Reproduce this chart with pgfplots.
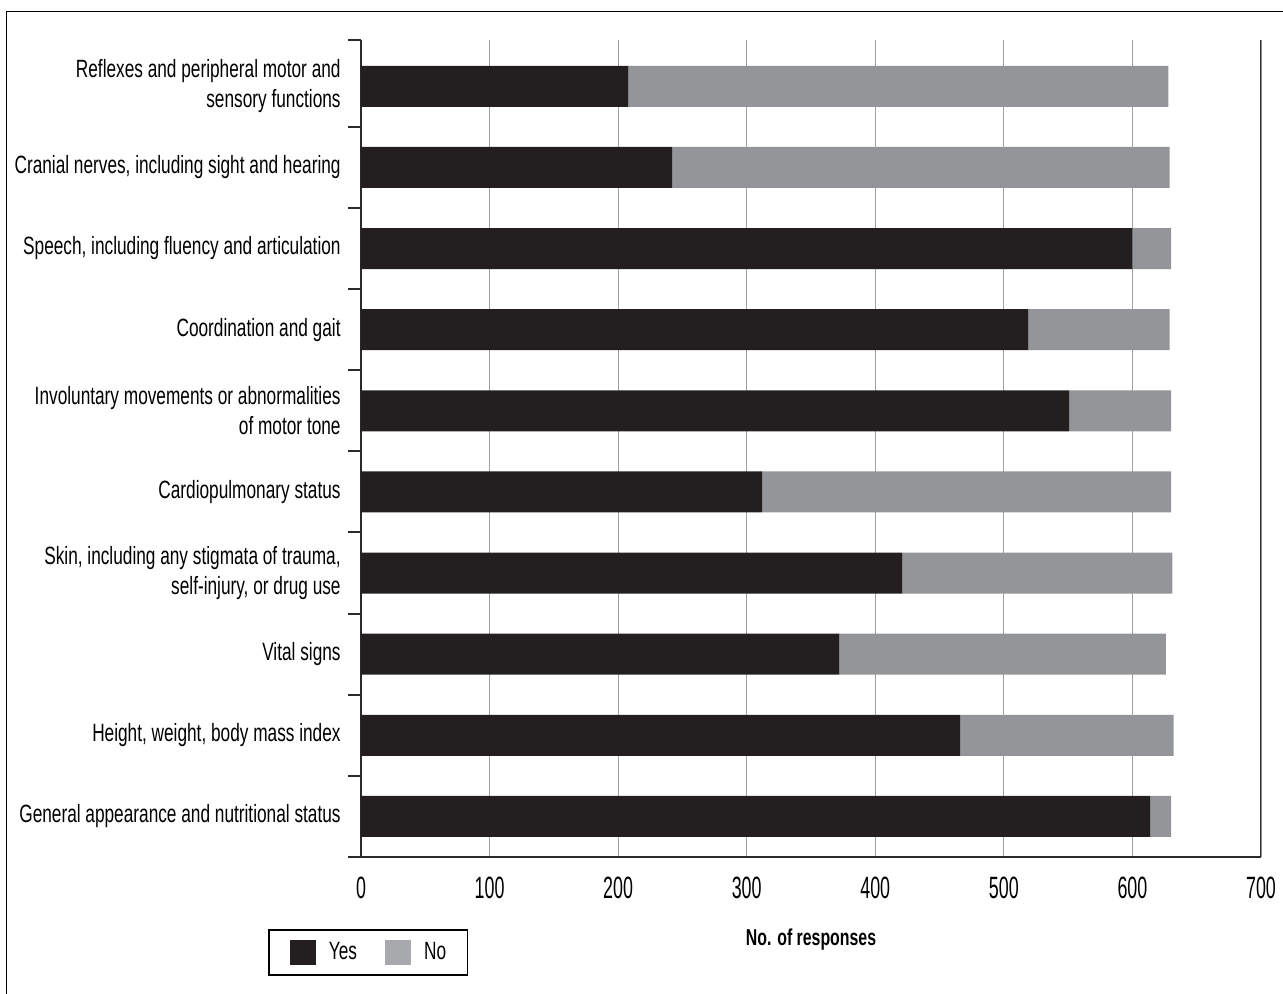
\documentclass[border=0pt]{standalone}
\usepackage{pgfplots}
\pgfplotsset{compat=1.18}
\usepackage{fontspec}
\setmainfont{Liberation Sans}[FakeStretch=0.69]
\newfontfamily\tickfont{Liberation Sans}[FakeStretch=0.58]
\definecolor{yesc}{HTML}{231F20}
\definecolor{noc}{HTML}{939598}
\definecolor{nolegc}{HTML}{A7A9AC}
\definecolor{gridc}{HTML}{A0A0A0}
\definecolor{axc}{HTML}{2A2A2A}
\begin{document}
\begin{tikzpicture}[x=0.5pt,y=0.5pt]
\useasboundingbox (-361,-136) rectangle (922,857);
\draw[line width=0.6pt] (-354.5,-160) -- (-354.5,845.5) -- (950,845.5);
\begin{axis}[
  scale only axis, width=450pt, height=408.5pt,
  xbar stacked, bar width=20.5pt,
  xmin=0, xmax=700, ymin=-0.5, ymax=9.57,
  axis lines*=left,
  axis line style={-, line width=1pt, color=axc},
  ytick={0,...,9},
  yticklabels={
    {General appearance and nutritional status},
    {Height, weight, body mass index},
    {Vital signs},
    {Skin, including any stigmata of trauma,\\self-injury, or drug use},
    {Cardiopulmonary status},
    {Involuntary movements or abnormalities\\of motor tone},
    {Coordination and gait},
    {Speech, including fluency and articulation},
    {Cranial nerves, including sight and hearing},
    {Reflexes and peripheral motor and\\sensory functions}},
  minor ytick={-0.5,0.5,1.5,2.5,3.5,4.5,5.5,6.5,7.5,8.5,9.57},
  major tick length=0pt, minor tick length=6.5pt, tick align=outside,
  tick style={line width=1pt, color=axc},
  xtick={0,100,...,700},
  xmajorgrids, grid style={gridc, line width=0.6pt},
  /pgf/number format/assume math mode=true,
  xticklabel style={font=\tickfont\fontsize{15.4}{17}\selectfont, yshift=-6.5pt},
  yticklabel style={align=right, font=\fontsize{12.5}{15}\selectfont, inner sep=0pt, xshift=-10pt},
  xlabel={\textbf{No. of responses}},
  xlabel style={at={(axis description cs:0.5,-0.1016)}, anchor=center, font=\fontsize{11.5}{13}\selectfont},
  legend style={at={(axis description cs:0.0078,-0.1169)}, anchor=center, legend columns=2,
    draw=black, line width=0.6pt, font=\fontsize{12.5}{14}\selectfont,
    inner xsep=10.5pt, inner ysep=5pt,
    nodes={inner sep=0pt},
    /tikz/every odd column/.append style={column sep=6.5pt},
    /tikz/every even column/.append style={column sep=14pt}},
  legend image code/.code={\fill[#1] (0pt,-6.25pt) rectangle (13pt,6.25pt);},
]
\addplot[fill=yesc, draw=none, forget plot] coordinates {
  (614,0) (466,1) (372,2) (421,3) (312,4) (551,5) (519,6) (600,7) (242,8) (208,9)};
\addplot[fill=noc, draw=none, forget plot] coordinates {
  (16,0) (166,1) (254,2) (210,3) (318,4) (79,5) (110,6) (30,7) (387,8) (420,9)};
\draw[line width=1pt, color=axc] (axis cs:700,-0.5) -- (axis cs:700,9.57);
\addlegendimage{fill=yesc, draw=none}
\addlegendentry{Yes}
\addlegendimage{fill=nolegc, draw=none}
\addlegendentry{No}
\end{axis}
\end{tikzpicture}
\end{document}
